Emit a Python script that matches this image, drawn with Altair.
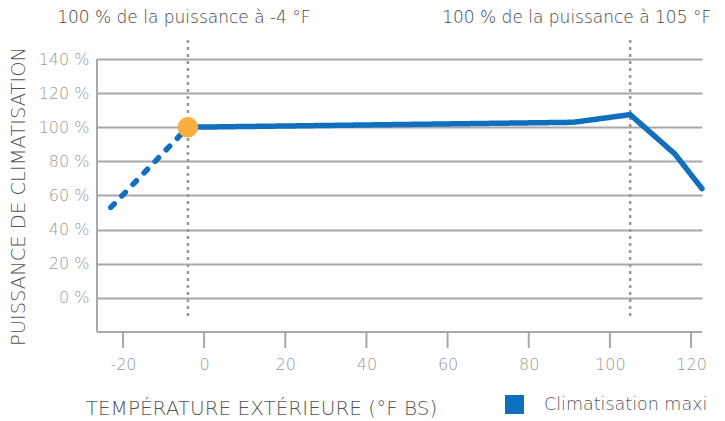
import altair as alt
import pandas as pd

# ---- data ----
dash_temp = [-23, -4]
dash_pct = [53, 100]
solid_temp = [-4, 91, 105, 116, 122.7]
solid_pct = [100, 102.9, 107.4, 84.4, 64]
series_name = "Climatisation maxi"

rule_temp = [-4, 105]
rule_label = ["100 % de la puissance à -4 °F", "100 % de la puissance à 105 °F"]

point_temp = [-4]
point_pct = [100]

x_ticks = [-20, 0, 20, 40, 60, 80, 100, 120]
y_ticks = [0, 20, 40, 60, 80, 100, 120, 140]

X_MIN, X_MAX = -26.4, 122.7
Y_AXIS_MIN, Y_MAX = -20, 140
Y_TICK_END = -29.38   # bottom of the tick marks (16 px below the axis line)

BLUE = "#1170BD"
ORANGE = "#F9AE40"
GRID = "#A8A8A8"
FONT = "DejaVu Sans"
FW = 200

line_df = pd.DataFrame({
    "temp": dash_temp + solid_temp,
    "pct": dash_pct + solid_pct,
    "seg": ["dashed"] * len(dash_temp) + ["solid"] * len(solid_temp),
    "series": [series_name] * (len(dash_temp) + len(solid_temp)),
})
rule_df = pd.DataFrame({"temp": rule_temp, "label": rule_label})
point_df = pd.DataFrame({"temp": point_temp, "pct": point_pct})
tick_df = pd.DataFrame({"temp": x_ticks})

xscale = alt.Scale(domain=[X_MIN, X_MAX], nice=False, zero=False)
yscale = alt.Scale(domain=[Y_TICK_END, Y_MAX], nice=False, zero=False)

xaxis = alt.Axis(
    values=x_ticks, grid=False, ticks=False, domain=False,
    labelExpr="datum.value + ''", labelOverlap=False, labelPadding=8,
    title="TEMPÉRATURE EXTÉRIEURE (°F BS)", titleX=164, titleY=60,
    titleAlign="center", titleBaseline="middle", titleFontSize=20,
)
yaxis = alt.Axis(
    values=y_ticks, grid=True, ticks=False, domain=False,
    labelExpr="datum.value + ' %'", labelOverlap=False, labelPadding=8,
    title="PUISSANCE DE CLIMATISATION", titleX=-79, titleY=137,
    titleAngle=-90, titleAlign="center", titleBaseline="middle", titleFontSize=19.5,
)

X = alt.X("temp:Q", scale=xscale, axis=xaxis)
Y = alt.Y("pct:Q", scale=yscale, axis=yaxis)

# x axis line at -20 %
x_domain = alt.Chart(tick_df).mark_rule(color=GRID, strokeWidth=2).encode(
    x=alt.XDatum(X_MIN, scale=xscale, axis=xaxis),
    x2=alt.X2Datum(X_MAX),
    y=alt.YDatum(Y_AXIS_MIN, scale=yscale, axis=yaxis),
)

# y axis line from -20 % to 140 %
y_domain = alt.Chart(tick_df).mark_rule(color=GRID, strokeWidth=2).encode(
    x=alt.XDatum(X_MIN, scale=xscale, axis=xaxis),
    y=alt.YDatum(Y_MAX, scale=yscale, axis=yaxis),
    y2=alt.Y2Datum(Y_AXIS_MIN),
)

# tick marks below the x axis line
ticks = alt.Chart(tick_df).mark_rule(color=GRID, strokeWidth=2).encode(
    x=X,
    y=alt.YDatum(Y_AXIS_MIN, scale=yscale, axis=yaxis),
    y2=alt.Y2Datum(Y_TICK_END),
)

rules = alt.Chart(rule_df).mark_rule(
    color="#9A9A9A", strokeWidth=2.5, strokeDash=[3, 4]
).encode(
    x=X,
    y=alt.value(-19),
    y2=alt.value(261),
)

line = alt.Chart(line_df).mark_line(
    strokeWidth=5.5, strokeCap="round", strokeJoin="round"
).encode(
    x=X,
    y=Y,
    color=alt.Color(
        "series:N",
        scale=alt.Scale(domain=[series_name], range=[BLUE]),
        legend=alt.Legend(
            title=None, orient="none", legendX=408, legendY=336,
            symbolType="square", symbolSize=361, symbolFillColor=BLUE,
            symbolStrokeWidth=0, labelFontSize=17.5, labelColor="#555",
            labelFont=FONT, labelFontWeight=FW, labelOffset=20, padding=0,
            labelLimit=400,
        ),
    ),
    strokeDash=alt.StrokeDash(
        "seg:N",
        scale=alt.Scale(domain=["dashed", "solid"], range=[[5, 11], [1, 0]]),
        legend=None,
    ),
    order="temp:Q",
)

point = alt.Chart(point_df).mark_point(
    filled=True, color=ORANGE, size=430, opacity=1, shape="circle"
).encode(
    x=X,
    y=Y,
)

left_label = alt.Chart(rule_df).transform_filter(
    alt.datum.temp < 0
).mark_text(
    align="center", baseline="middle", fontSize=17, font=FONT, fontWeight=FW,
    color="#444", dx=-4
).encode(
    x=X,
    y=alt.value(-41),
    text="label:N",
)

right_label = alt.Chart(rule_df).transform_filter(
    alt.datum.temp > 0
).mark_text(
    align="right", baseline="middle", fontSize=17, font=FONT, fontWeight=FW,
    color="#444", dx=81
).encode(
    x=X,
    y=alt.value(-41),
    text="label:N",
)

chart = alt.layer(
    x_domain, y_domain, ticks, rules, line, point, left_label, right_label
).properties(
    width=605,
    height=289,
    autosize=alt.AutoSizeParams(type="none"),
    padding={"left": 89, "top": 51, "right": 15, "bottom": 72},
).configure_view(
    stroke=None, clip=False
).configure_axis(
    gridColor=GRID, gridWidth=2,
    labelFont=FONT, labelFontSize=16, labelFontWeight=FW, labelColor="#9A9A9A",
    titleFont=FONT, titleFontSize=17, titleColor="#555", titleFontWeight=FW,
)

chart.save("out.html", embed_options={"renderer": "svg", "actions": False})
